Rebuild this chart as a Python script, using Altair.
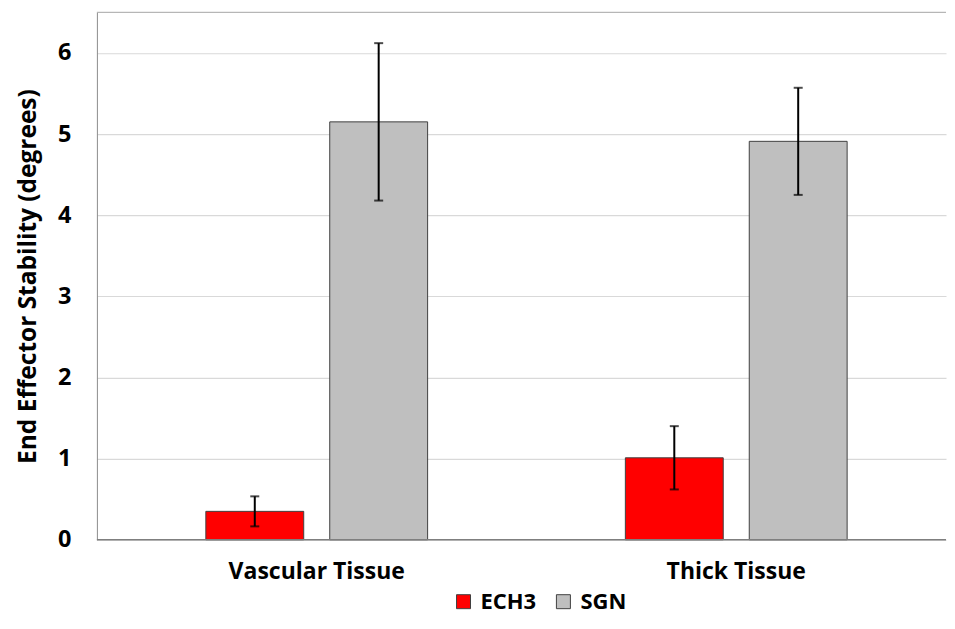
import altair as alt
import pandas as pd

categories = ["Vascular Tissue", "Vascular Tissue", "Thick Tissue", "Thick Tissue"]
series = ["ECH3", "SGN", "ECH3", "SGN"]
means = [0.35, 5.15, 1.01, 4.91]
errors = [0.185, 0.97, 0.39, 0.66]
y_ticks = [0, 1, 2, 3, 4, 5, 6]

df = pd.DataFrame({"cat": categories, "series": series, "mean": means, "err": errors})
df["lo"] = df["mean"] - df["err"]
df["hi"] = df["mean"] + df["err"]

FONT = "Open Sans"
cat_order = ["Vascular Tissue", "Thick Tissue"]

x_scale = alt.Scale(paddingInner=0, paddingOuter=0.012, align=1)
x_enc = alt.X("cat:N", sort=cat_order, title=None, scale=x_scale,
              axis=alt.Axis(labelAngle=0, labelFontSize=23, labelFont=FONT, labelFontWeight="bold",
                            labelColor="#000000", ticks=False, domain=False, grid=False,
                            labelPadding=21))
xoff = alt.XOffset("series:N", scale=alt.Scale(paddingInner=0.21, paddingOuter=0.798))

y_scale = alt.Scale(domain=[0, 6.5], nice=False)

bars = alt.Chart(df).mark_bar(stroke="#404040", strokeWidth=1).encode(
    x=x_enc,
    xOffset=xoff,
    y=alt.Y("mean:Q", scale=y_scale, title="End Effector Stability (degrees)",
            axis=alt.Axis(values=y_ticks, format="d", labelFontSize=23.5, labelFont=FONT,
                          labelFontWeight="bold", labelColor="#000000", ticks=False,
                          domainColor="#8c8c8c", gridColor="#d9d9d9", gridWidth=1.2,
                          labelPadding=26,
                          titleFontSize=24.5, titleFont=FONT,
                          titleFontWeight="bold", titleColor="#000000", titlePadding=17)),
    color=alt.Color("series:N", scale=alt.Scale(domain=["ECH3", "SGN"], range=["#ff0000", "#bfbfbf"]),
                    legend=alt.Legend(title=None, orient="none", direction="horizontal",
                                      legendX=356, legendY=579, symbolType="square", symbolSize=196,
                                      symbolStrokeColor="#404040", symbolStrokeWidth=1,
                                      labelFontSize=22, labelFont=FONT, labelFontWeight="bold",
                                      labelColor="#000000", columnPadding=16, labelOffset=6)),
)

rules = alt.Chart(df).mark_rule(color="#000000", strokeWidth=2).encode(
    x=alt.X("cat:N", sort=cat_order), xOffset=xoff,
    y=alt.Y("lo:Q", scale=y_scale), y2="hi:Q")

caps_hi = alt.Chart(df).mark_tick(color="#000000", thickness=2, size=9, orient="horizontal").encode(
    x=alt.X("cat:N", sort=cat_order), xOffset=xoff, y=alt.Y("hi:Q", scale=y_scale))
caps_lo = alt.Chart(df).mark_tick(color="#000000", thickness=2, size=9, orient="horizontal").encode(
    x=alt.X("cat:N", sort=cat_order), xOffset=xoff, y=alt.Y("lo:Q", scale=y_scale))

top_line = alt.Chart(pd.DataFrame({"t": [6.5]})).mark_rule(color="#a6a6a6", strokeWidth=1).encode(
    y=alt.Y("t:Q", scale=y_scale))
base_line = alt.Chart(pd.DataFrame({"t": [0]})).mark_rule(color="#7f7f7f", strokeWidth=1.5).encode(
    y=alt.Y("t:Q", scale=y_scale))

chart = alt.layer(bars, rules, caps_hi, caps_lo, top_line, base_line).properties(
    width=850, height=528, padding={"left": 7, "top": 3, "right": 0, "bottom": 3}
).configure_view(stroke=None)

chart.save("out.html", embed_options={"renderer": "svg", "actions": False})
